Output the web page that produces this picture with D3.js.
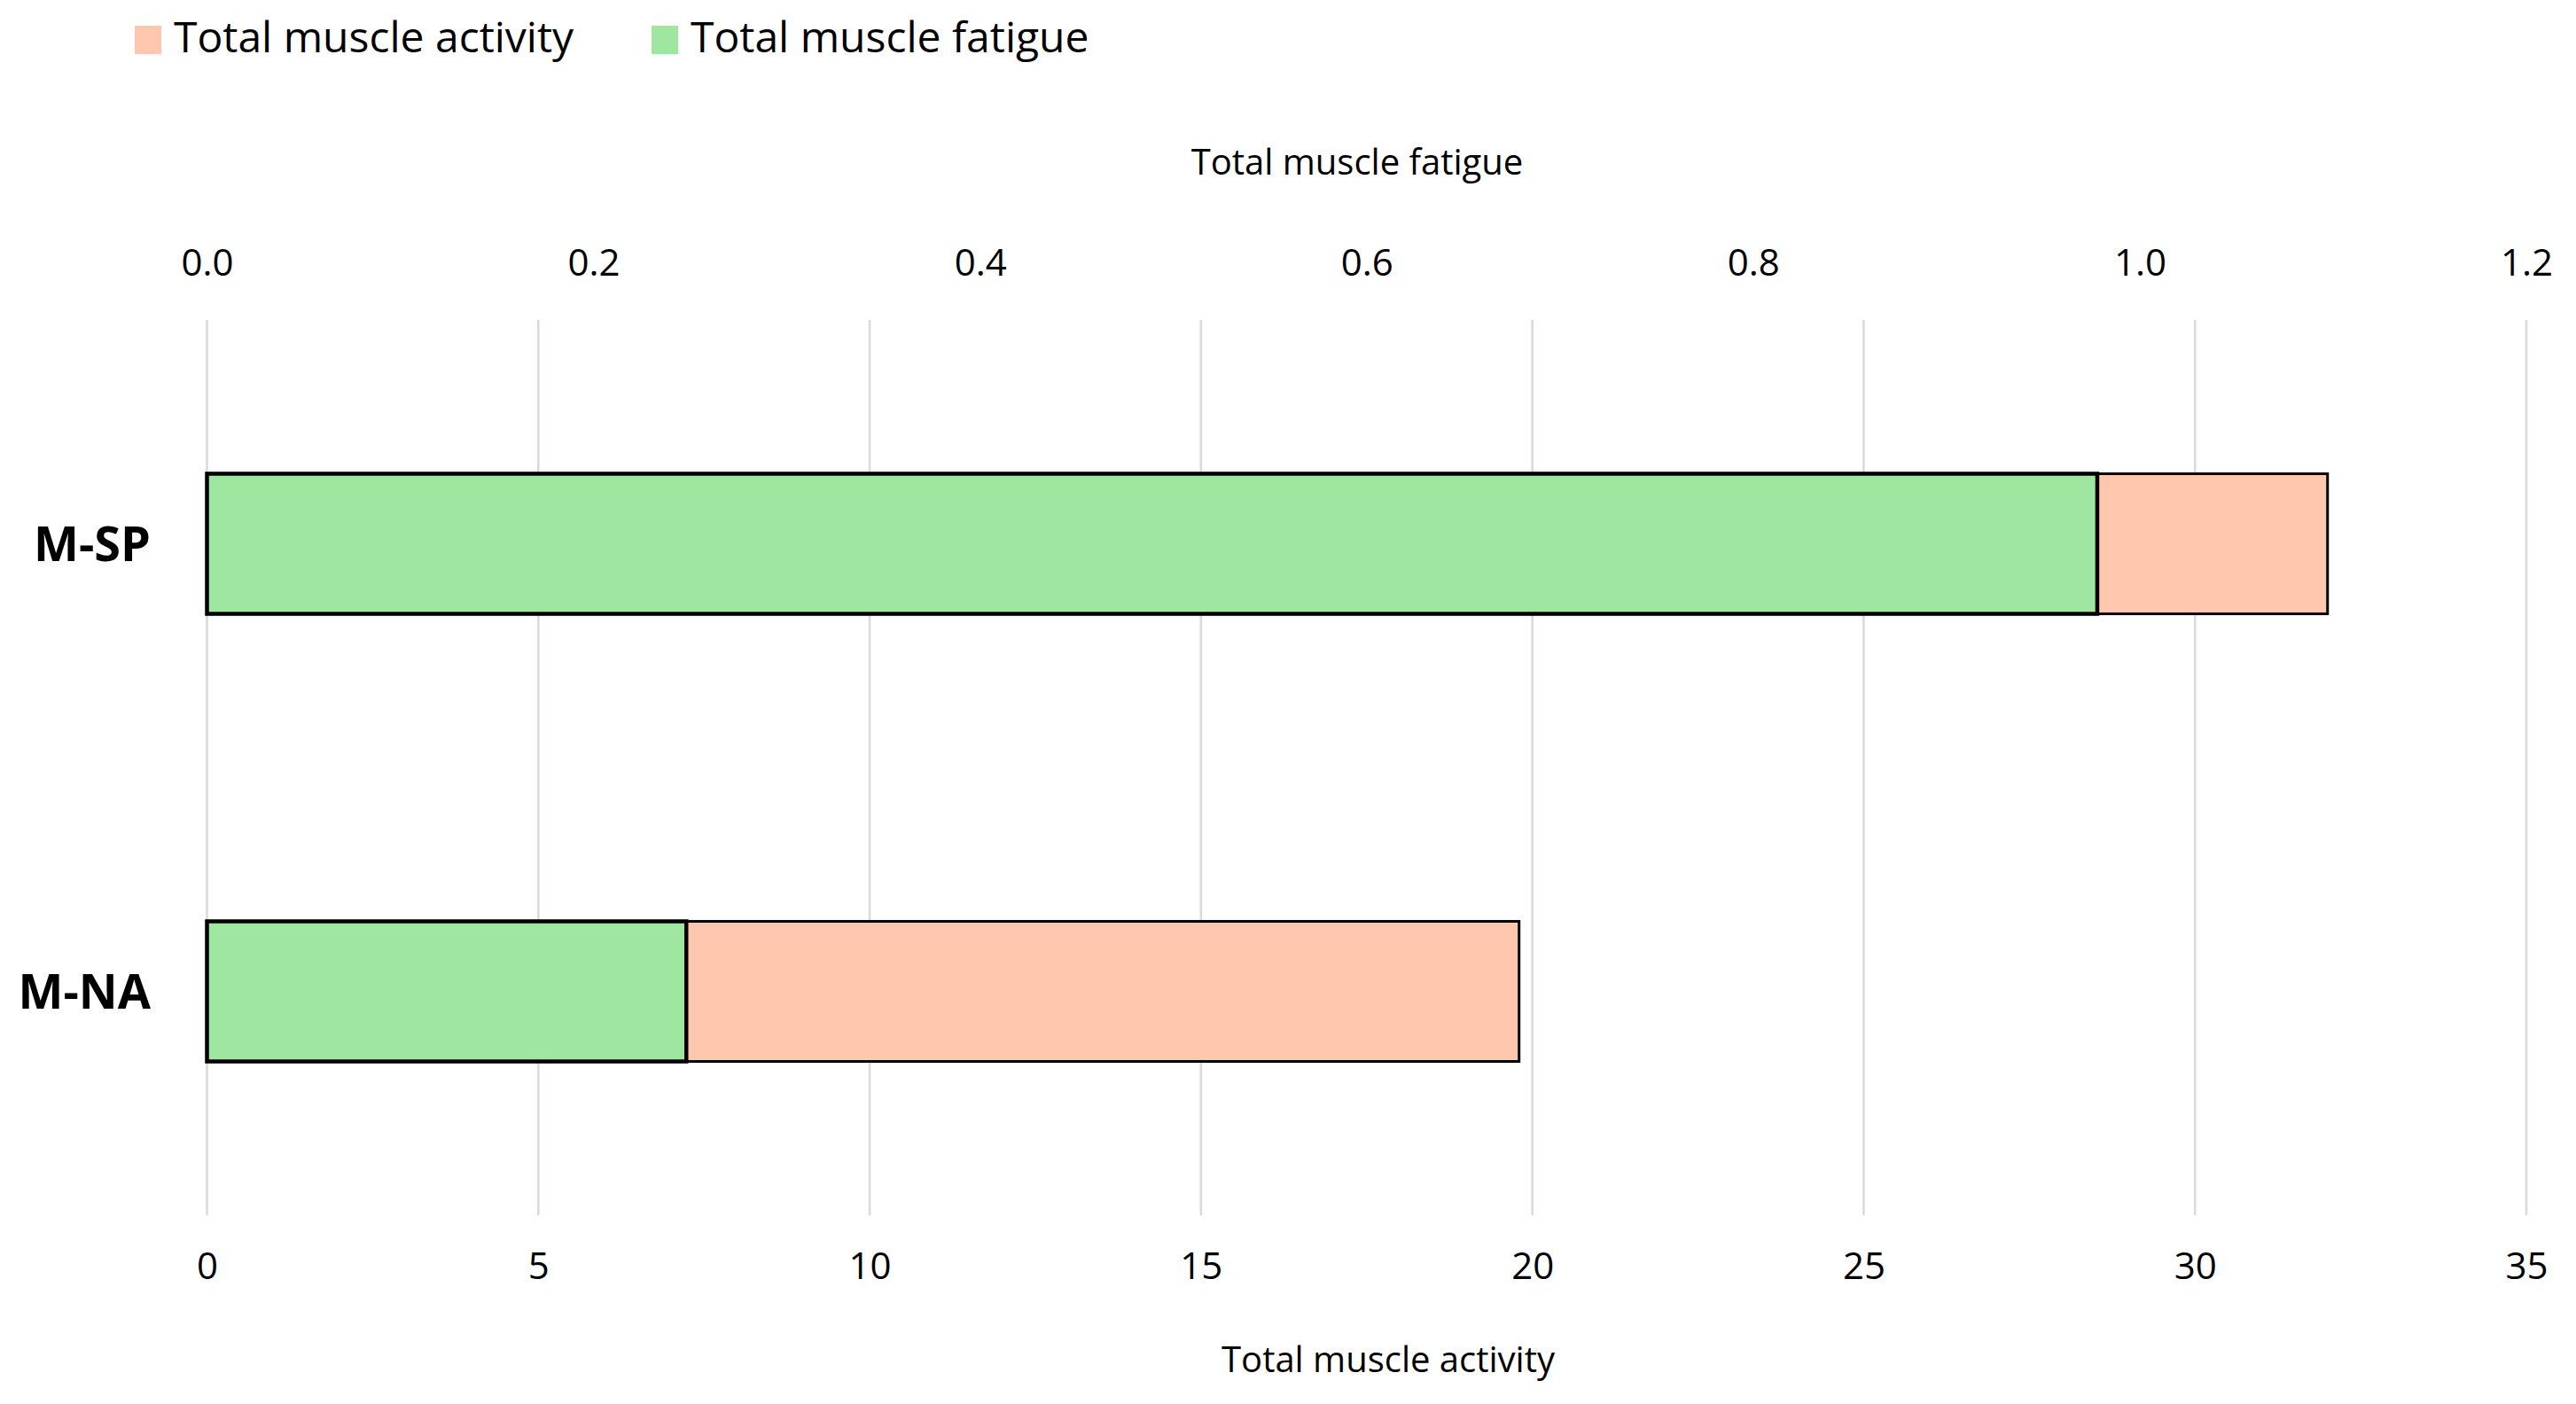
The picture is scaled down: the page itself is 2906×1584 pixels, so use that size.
<!DOCTYPE html>
<html>
<head>
<meta charset="utf-8">
<script src="https://cdn.jsdelivr.net/npm/d3@7"></script>
<style>
  body { margin: 0; background: #fff; }
  text { font-family: "Open Sans", sans-serif; fill: #000; }
</style>
</head>
<body>
<div id="plot"></div>
<script>
// Data
const categories = ["M-SP", "M-NA"];
const activity = [32.0, 19.8];     // bottom axis
const fatigue = [0.978, 0.248];    // top axis
const activityTicks = [0, 5, 10, 15, 20, 25, 30, 35];
const fatigueTicks = [0, 0.2, 0.4, 0.6, 0.8, 1.0, 1.2];
const seriesNames = ["Total muscle activity", "Total muscle fatigue"];
const seriesColors = ["#ffc8ae", "#9fe6a0"];

const w = 2906;
const h = 1584;
const plot = {left: 233.5, right: 2850, top: 361, bottom: 1371};

const svg = d3.select("div#plot")
  .append("svg")
  .attr("width", w)
  .attr("height", h);

// Scales
const xAct = d3.scaleLinear().domain([0, 35]).range([plot.left, plot.right]);
const xFat = d3.scaleLinear().domain([0, 1.2]).range([plot.left, plot.right]);
const yScale = d3.scaleBand()
  .domain(categories)
  .range([plot.top, plot.bottom])
  .paddingInner(0.687)
  .paddingOuter(0.3435);

// Gridlines
svg.append("g")
  .selectAll("line")
  .data(activityTicks)
  .join("line")
  .attr("x1", d => xAct(d))
  .attr("x2", d => xAct(d))
  .attr("y1", plot.top)
  .attr("y2", plot.bottom)
  .attr("stroke", "#d9d9d9")
  .attr("stroke-width", 2.5);

// Bottom axis (activity)
const bottomAxis = svg.append("g")
  .attr("transform", `translate(0, ${plot.bottom})`)
  .call(d3.axisBottom(xAct).tickValues(activityTicks).tickSize(0).tickPadding(0));
bottomAxis.select(".domain").remove();
bottomAxis.selectAll("text")
  .attr("y", 72)
  .attr("dy", 0)
  .style("font-size", "42px")
  .style("font-family", "'Open Sans', sans-serif");

// Top axis (fatigue)
const topAxis = svg.append("g")
  .attr("transform", `translate(0, ${plot.top})`)
  .call(d3.axisTop(xFat).tickValues(fatigueTicks).tickFormat(d3.format(".1f")).tickSize(0).tickPadding(0));
topAxis.select(".domain").remove();
topAxis.selectAll("text")
  .attr("y", -50)
  .attr("dy", 0)
  .style("font-size", "42px")
  .style("font-family", "'Open Sans', sans-serif");

// Axis titles
svg.append("text")
  .attr("x", 1531)
  .attr("y", 197)
  .attr("text-anchor", "middle")
  .style("font-size", "40px")
  .text("Total muscle fatigue");

svg.append("text")
  .attr("x", 1566)
  .attr("y", 1548)
  .attr("text-anchor", "middle")
  .style("font-size", "40px")
  .text("Total muscle activity");

// Activity bars (drawn first, underneath)
svg.append("g")
  .selectAll("rect")
  .data(categories)
  .join("rect")
  .attr("x", xAct(0))
  .attr("y", d => yScale(d))
  .attr("width", (d, i) => xAct(activity[i]) - xAct(0))
  .attr("height", yScale.bandwidth())
  .attr("fill", seriesColors[0])
  .attr("stroke", "#000")
  .attr("stroke-width", 3);

// Fatigue bars (on top)
svg.append("g")
  .selectAll("rect")
  .data(categories)
  .join("rect")
  .attr("x", xFat(0))
  .attr("y", d => yScale(d))
  .attr("width", (d, i) => xFat(fatigue[i]) - xFat(0))
  .attr("height", yScale.bandwidth())
  .attr("fill", seriesColors[1])
  .attr("stroke", "#000")
  .attr("stroke-width", 4.5);

// Category labels
svg.append("g")
  .selectAll("text")
  .data(categories)
  .join("text")
  .attr("x", 170)
  .attr("y", d => yScale(d) + yScale.bandwidth() / 2)
  .attr("dy", "0.36em")
  .attr("text-anchor", "end")
  .style("font-size", "54px")
  .style("font-weight", "bold")
  .text(d => d);

// Legend
const legendX = [152, 735];
const legend = svg.append("g")
  .selectAll("g")
  .data(seriesNames)
  .join("g")
  .attr("transform", (d, i) => `translate(${legendX[i]}, 29)`);

legend.append("rect")
  .attr("width", 30)
  .attr("height", 32)
  .attr("fill", (d, i) => seriesColors[i]);

legend.append("text")
  .attr("x", 44)
  .attr("y", 13)
  .attr("dy", "0.36em")
  .style("font-size", "48px")
  .text(d => d);
</script>
</body>
</html>
